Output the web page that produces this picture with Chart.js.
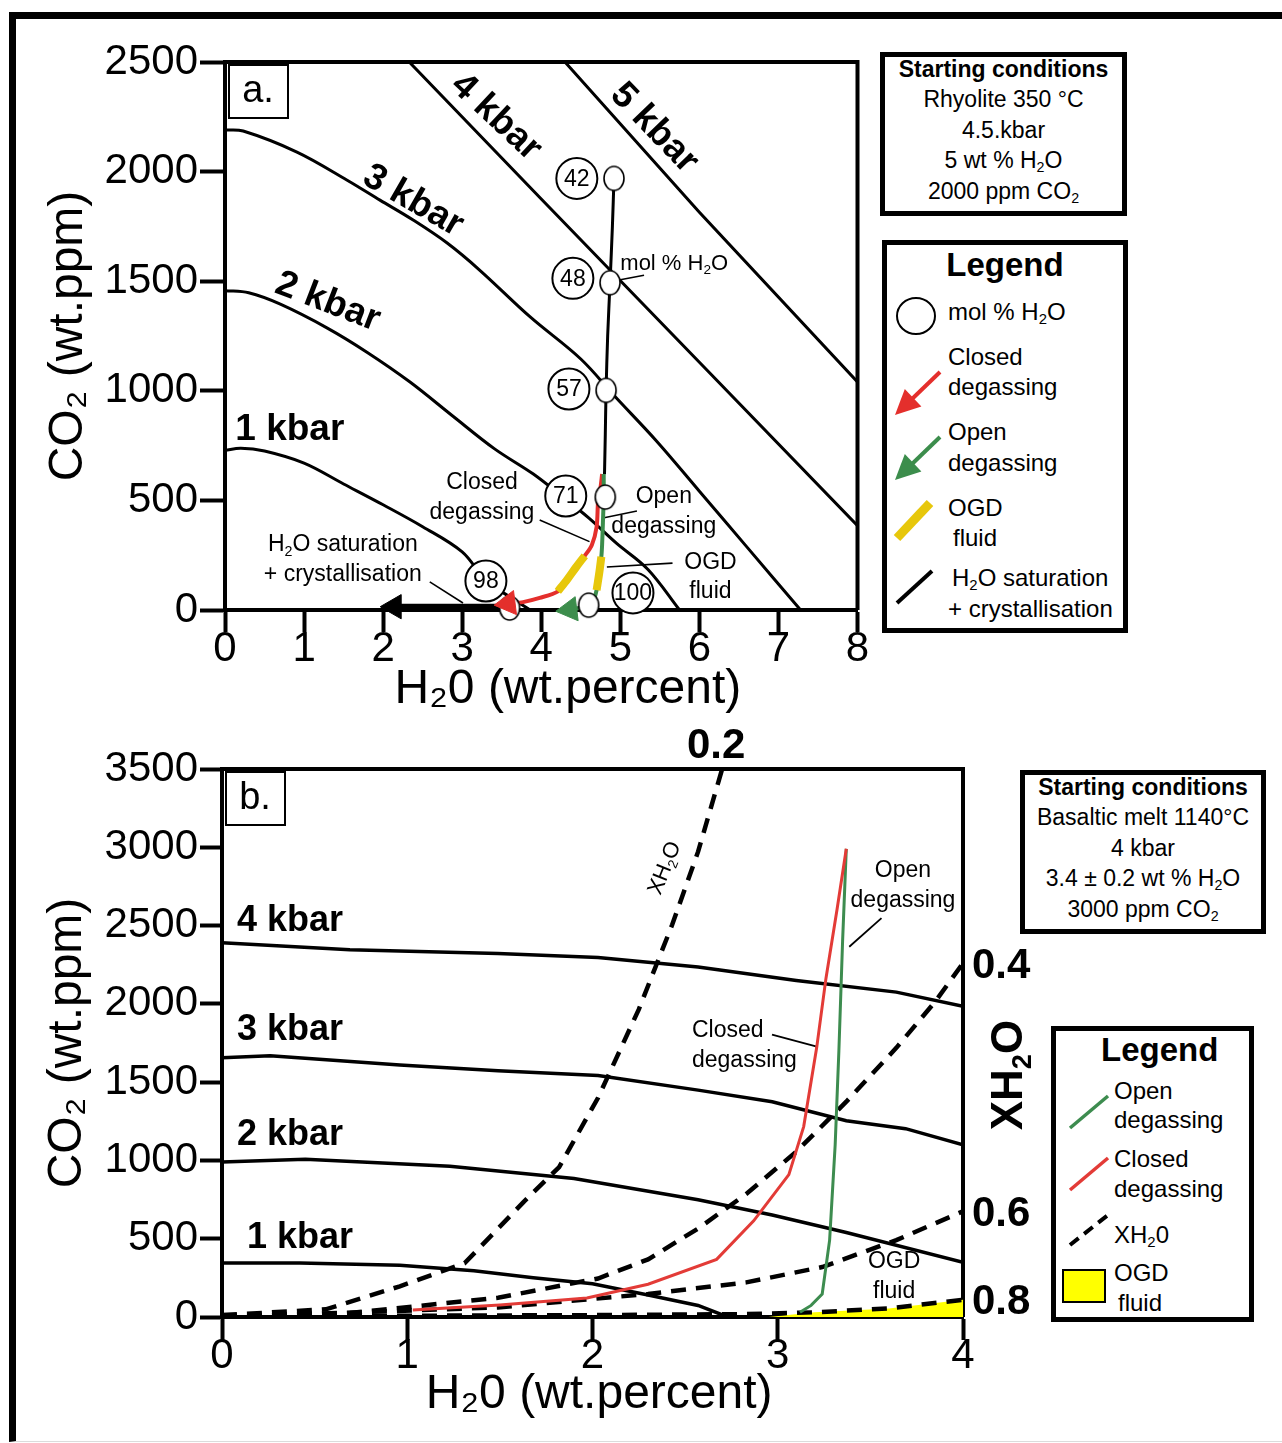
<!DOCTYPE html>
<html lang="en">
<head>
<meta charset="utf-8">
<title>CO2–H2O degassing paths</title>
<script src="https://cdn.jsdelivr.net/npm/chart.js@4.4.1/dist/chart.umd.min.js"></script>
<style>
  html, body { margin: 0; padding: 0; background: #fff; }
  body { width: 1282px; height: 1443px; position: relative; overflow: hidden;
         font-family: "Liberation Sans", Arial, Helvetica, sans-serif; color: #000; }
  #frame { position: absolute; left: 9px; top: 12px; width: 1300px; height: 1422px;
           border-top: 7px solid #000; border-left: 7px solid #000; border-bottom: 1px solid #dcdcdc; }
  canvas { position: absolute; left: 0; }
  #chartA { top: 0; }
  #chartB { top: 720px; }
  .box { position: absolute; box-sizing: border-box; border: 5px solid #000; background: #fff; }
  .cond { text-align: center; font-size: 23px; line-height: 30.4px; padding-top: 0; }
  .cond .t { font-weight: bold; margin-top: -3px; }
  sub { font-size: 0.62em; vertical-align: -0.3em; line-height: 0; }
  .lg { position: absolute; white-space: nowrap; font-size: 24px; line-height: 30px; height: 30px; }
  .lgt { position: absolute; white-space: nowrap; font-size: 33px; font-weight: bold; line-height: 36px; }
  .box svg { position: absolute; left: 0; top: 0; overflow: visible; }
</style>
</head>
<body>
<div id="frame"></div>
<canvas id="chartA" width="880" height="720"></canvas>
<canvas id="chartB" width="1060" height="723"></canvas>

<!-- panel a: starting conditions -->
<div class="box cond" style="left:880px;top:52px;width:247px;height:164px;">
  <div class="t">Starting conditions</div>
  <div>Rhyolite 350 °C</div>
  <div>4.5.kbar</div>
  <div>5 wt % H<sub>2</sub>O</div>
  <div>2000 ppm CO<sub>2</sub></div>
</div>

<!-- panel a: legend -->
<div class="box" style="left:882px;top:240px;width:246px;height:393px;">
  <svg width="236" height="383">
    <ellipse cx="29" cy="71" rx="19" ry="18" fill="#fff" stroke="#000" stroke-width="2"/>
    <line x1="53" y1="127" x2="25" y2="154" stroke="#e42f2c" stroke-width="4"/>
    <polygon points="8,170 34.4,161.4 17.8,144" fill="#e42f2c"/>
    <line x1="53" y1="192" x2="25" y2="219" stroke="#3c8d4c" stroke-width="4"/>
    <polygon points="8,235 34.4,226.4 17.8,209" fill="#3c8d4c"/>
    <line x1="43" y1="258" x2="10" y2="293" stroke="#e7c70b" stroke-width="9"/>
    <line x1="45" y1="326" x2="10" y2="358" stroke="#000" stroke-width="4"/>
  </svg>
  <div class="lgt" style="left:0;width:236px;text-align:center;top:2px;">Legend</div>
  <div class="lg" style="left:61px;top:52px;">mol % H<sub>2</sub>O</div>
  <div class="lg" style="left:61px;top:97px;">Closed</div>
  <div class="lg" style="left:61px;top:127px;">degassing</div>
  <div class="lg" style="left:61px;top:172px;">Open</div>
  <div class="lg" style="left:61px;top:203px;">degassing</div>
  <div class="lg" style="left:61px;top:248px;">OGD</div>
  <div class="lg" style="left:66px;top:278px;">fluid</div>
  <div class="lg" style="left:65px;top:318px;">H<sub>2</sub>O saturation</div>
  <div class="lg" style="left:61px;top:349px;">+ crystallisation</div>
</div>

<!-- panel b: starting conditions -->
<div class="box cond" style="left:1020px;top:770px;width:246px;height:164px;">
  <div class="t">Starting conditions</div>
  <div>Basaltic melt 1140°C</div>
  <div>4 kbar</div>
  <div>3.4 ± 0.2 wt % H<sub>2</sub>O</div>
  <div>3000 ppm CO<sub>2</sub></div>
</div>

<!-- panel b: legend -->
<div class="box" style="left:1051px;top:1026px;width:203px;height:296px;">
  <svg width="193" height="286">
    <line x1="14" y1="97" x2="52" y2="65" stroke="#3d8c4f" stroke-width="3.5"/>
    <line x1="14" y1="159" x2="52" y2="127" stroke="#e33b37" stroke-width="3.5"/>
    <line x1="14" y1="214" x2="52" y2="184" stroke="#000" stroke-width="4" stroke-dasharray="11 7"/>
    <rect x="7" y="239" width="42" height="32" fill="#ffff00" stroke="#000" stroke-width="2"/>
  </svg>
  <div class="lgt" style="left:45px;top:1px;">Legend</div>
  <div class="lg" style="left:58px;top:45px;">Open</div>
  <div class="lg" style="left:58px;top:74px;">degassing</div>
  <div class="lg" style="left:58px;top:113px;">Closed</div>
  <div class="lg" style="left:58px;top:143px;">degassing</div>
  <div class="lg" style="left:58px;top:189px;">XH<sub>2</sub>0</div>
  <div class="lg" style="left:58px;top:227px;">OGD</div>
  <div class="lg" style="left:62px;top:257px;">fluid</div>
</div>

<script>
const FAMILY = '"Liberation Sans", Arial, Helvetica, sans-serif';
Chart.defaults.font.family = FAMILY;
Chart.defaults.color = '#000';

/* ================= Panel a: rhyolite at 350 °C ================= */
const aTicksX = [0, 1, 2, 3, 4, 5, 6, 7, 8];
const aTicksY = [0, 500, 1000, 1500, 2000, 2500];

// H2O-CO2 solubility isobars (H2O wt%, CO2 ppm)
const a1kbarX = [0, 0.2, 0.5, 1.0, 1.5, 2.0, 2.5, 3.0, 3.3, 3.6, 3.86];
const a1kbarY = [728, 738, 725, 670, 575, 480, 380, 265, 135, 60, 0];
const a2kbarX = [0, 0.3, 0.7, 1.3, 1.8, 2.34, 2.88, 3.41, 3.9, 4.27, 4.6, 4.95, 5.35, 5.75];
const a2kbarY = [1457, 1447, 1395, 1285, 1175, 1040, 885, 735, 620, 516, 420, 305, 185, 0];
const a3kbarX = [0, 0.23, 0.91, 1.54, 1.96, 2.38, 2.81, 3.22, 3.86, 4.5, 4.93, 5.46, 6.0, 6.6, 7.28];
const a3kbarY = [2190, 2185, 2089, 1962, 1870, 1779, 1674, 1551, 1337, 1145, 975, 770, 542, 288, 0];
const a4kbarX = [2.33, 4.0, 6.0, 8.0];
const a4kbarY = [2500, 1875, 1130, 385];
const a5kbarX = [4.3, 6.0, 8.0];
const a5kbarY = [2500, 1815, 1040];

// degassing path from the starting melt
const aPathX = [4.92, 4.90, 4.87, 4.84, 4.82, 4.81, 4.80];
const aPathY = [1969, 1750, 1493, 1250, 1002, 800, 620];
const aClosedX = [4.77, 4.75, 4.72, 4.70, 4.64, 4.55, 4.44, 4.33, 4.21, 3.98, 3.77, 3.60];
const aClosedY = [620, 560, 502, 379, 297, 247, 195, 140, 85, 55, 36, 30];
const aOpenX = [4.79, 4.79, 4.78, 4.77, 4.76, 4.73, 4.70, 4.66, 4.58, 4.46, 4.36];
const aOpenY = [620, 515, 400, 300, 243, 160, 91, 46, 22, 8, 2];
const aClosedOgdX = [4.55, 4.44, 4.33, 4.21];
const aClosedOgdY = [247, 195, 140, 85];
const aOpenOgdX = [4.76, 4.745, 4.73, 4.70];
const aOpenOgdY = [243, 200, 160, 91];
const aSatX = [2.2, 3.55];
const aSatY = [15, 15];

// fluid composition markers (mol % H2O) and their labels
const aMolPct = [42, 48, 57, 71, 98, 100];
const aMarkX = [4.92, 4.87, 4.82, 4.81, 3.60, 4.60];
const aMarkY = [1969, 1493, 1002, 515, 9, 22];
const aMolLabelX = [4.45, 4.40, 4.35, 4.31, 3.30, 5.16];
const aMolLabelY = [1969, 1513, 1008, 520, 132, 78];

/* ================= Panel b: basaltic melt at 1140 °C ================= */
const bTicksX = [0, 1, 2, 3, 4];
const bTicksY = [0, 500, 1000, 1500, 2000, 2500, 3000, 3500];

const b1kbarX = [0, 0.42, 0.96, 1.36, 1.68, 2.0, 2.3, 2.57, 2.73];
const b1kbarY = [345, 345, 330, 295, 250, 212, 140, 74, 0];
const b2kbarX = [0, 0.45, 1.23, 1.90, 2.57, 2.97, 3.37, 4.0];
const b2kbarY = [990, 1008, 963, 884, 749, 651, 540, 350];
const b3kbarX = [0, 0.26, 0.96, 1.49, 2.03, 2.57, 2.97, 3.37, 3.69, 4.0];
const b3kbarY = [1655, 1668, 1609, 1572, 1542, 1449, 1375, 1253, 1203, 1100];
const b4kbarX = [0, 0.69, 1.49, 2.03, 2.57, 3.10, 3.64, 4.0];
const b4kbarY = [2390, 2345, 2321, 2296, 2235, 2149, 2075, 1985];

// XH2O isopleths
const bXh2oValues = ['0.2', '0.4', '0.6', '0.8'];
const bX02 = [0, 0.56, 0.96, 1.31, 1.63, 1.82, 2.03, 2.25, 2.43, 2.57, 2.70];
const bY02 = [12, 49, 196, 344, 737, 958, 1400, 1965, 2505, 2972, 3500];
const bX04 = [0, 0.69, 1.49, 2.03, 2.30, 2.57, 2.83, 3.10, 3.37, 3.64, 3.85, 4.0];
const bY04 = [7, 25, 123, 246, 368, 565, 786, 1056, 1375, 1719, 2014, 2260];
const bX06 = [0, 1.49, 2.30, 2.83, 3.24, 3.64, 4.0];
const bY06 = [0, 61, 147, 221, 319, 491, 675];
const bX08 = [0, 1.0, 2.0, 2.8, 3.2, 3.6, 4.0];
const bY08 = [5, 8, 12, 18, 30, 55, 110];

// degassing paths and the OGD fluid field
const bClosedX = [1.03, 1.5, 1.97, 2.3, 2.67, 2.87, 3.06, 3.14, 3.21, 3.26, 3.32, 3.37];
const bClosedY = [45, 77, 121, 209, 368, 614, 909, 1216, 1719, 2161, 2603, 2990];
const bOpenX = [3.37, 3.35, 3.33, 3.31, 3.28, 3.24, 3.18, 3.12];
const bOpenY = [2990, 2400, 1700, 1100, 491, 147, 74, 30];
const bOgdX = [2.95, 3.2, 3.6, 4.0];
const bOgdY = [0, 30, 55, 110];

/* ================= helpers ================= */
const zip = (xs, ys) => xs.map((x, i) => ({ x, y: ys[i] }));

function line(xs, ys, color, width, extra) {
  return Object.assign({
    data: zip(xs, ys), showLine: true, borderColor: color, backgroundColor: color,
    borderWidth: width, pointRadius: 0, pointHoverRadius: 0, tension: 0, fill: false
  }, extra || {});
}

function ellipseMarker(w, h) {
  const c = document.createElement('canvas');
  c.width = w + 4; c.height = h + 4;
  const g = c.getContext('2d');
  g.beginPath();
  g.ellipse(c.width / 2, c.height / 2, w / 2, h / 2, 0, 0, Math.PI * 2);
  g.fillStyle = '#fff'; g.fill();
  g.lineWidth = 1.6; g.strokeStyle = '#000'; g.stroke();
  return c;
}

// text with "_2"-style subscripts
function drawRich(ctx, text, x, y, size, o) {
  o = o || {};
  const parts = text.split(/(_\d)/).filter(Boolean)
    .map(p => p[0] === '_' ? { t: p.slice(1), sub: true } : { t: p, sub: false });
  const font = s => (o.bold ? 'bold ' : '') + s + 'px ' + FAMILY;
  ctx.save();
  ctx.translate(x, y);
  if (o.rotate) ctx.rotate(o.rotate * Math.PI / 180);
  ctx.textBaseline = 'middle'; ctx.textAlign = 'left'; ctx.fillStyle = '#000';
  let w = 0;
  parts.forEach(p => { ctx.font = font(p.sub ? size * 0.62 : size); p.w = ctx.measureText(p.t).width; w += p.w; });
  let cx = o.align === 'center' ? -w / 2 : o.align === 'right' ? -w : 0;
  parts.forEach(p => {
    ctx.font = font(p.sub ? size * 0.62 : size);
    ctx.fillText(p.t, cx, p.sub ? size * 0.3 : 0);
    cx += p.w;
  });
  ctx.restore();
}

function panelBox(ctx, area, label) {
  ctx.save();
  ctx.fillStyle = '#fff'; ctx.strokeStyle = '#000'; ctx.lineWidth = 2;
  const l = area.left + 4, t = area.top + 3;
  ctx.fillRect(l, t, 59, 53); ctx.strokeRect(l, t, 59, 53);
  ctx.restore();
  drawRich(ctx, label, l + 29, t + 27, 38, { align: 'center' });
}

const framePlugin = {
  id: 'plotFrame',
  beforeDatasetsDraw(chart) {
    const { ctx, chartArea: a } = chart;
    ctx.save();
    ctx.strokeStyle = '#000'; ctx.lineWidth = 4; ctx.lineJoin = 'miter';
    ctx.beginPath();
    ctx.moveTo(a.left - 2, a.top); ctx.lineTo(a.right, a.top); ctx.lineTo(a.right, a.bottom);
    ctx.stroke();
    ctx.restore();
  }
};

function axes(ticksX, ticksY, xTitle, xTitlePad, xHeight, yWidth, yTitlePad, xTickLen, yTickLen, xLabelPad) {
  const common = {
    type: 'linear',
    grid: { drawOnChartArea: false, drawTicks: true, tickWidth: 4, tickColor: '#000' },
    border: { display: true, width: 4, color: '#000' }
  };
  const plain = v => String(v);
  return {
    x: Object.assign({}, common, {
      min: ticksX[0], max: ticksX[ticksX.length - 1],
      grid: Object.assign({}, common.grid, { tickLength: xTickLen }),
      ticks: { font: { size: 42, lineHeight: 1 }, color: '#000', padding: xLabelPad, maxRotation: 0, autoSkip: false, callback: plain },
      afterBuildTicks: s => { s.ticks = ticksX.map(v => ({ value: v })); },
      title: { display: true, text: xTitle, color: '#000', font: { size: 48, lineHeight: 1.2 }, padding: { top: 0, bottom: xTitlePad } },
      afterFit: s => { s.height = xHeight; }
    }),
    y: Object.assign({}, common, {
      min: ticksY[0], max: ticksY[ticksY.length - 1],
      grid: Object.assign({}, common.grid, { tickLength: yTickLen }),
      ticks: { font: { size: 42, lineHeight: 1 }, color: '#000', padding: 2, autoSkip: false, callback: plain },
      afterBuildTicks: s => { s.ticks = ticksY.map(v => ({ value: v })); },
      title: { display: true, text: 'CO₂ (wt.ppm)', color: '#000', font: { size: 48, lineHeight: 1.2 }, padding: { top: yTitlePad, bottom: 0 } },
      afterFit: s => { s.width = yWidth; }
    })
  };
}

/* ================= chart a ================= */
const RED_A = '#e42f2c', GREEN_A = '#3c8d4c', YELLOW_A = '#e7c70b';

const aLabelsPlugin = {
  id: 'aLabels',
  afterDatasetsDraw(chart) {
    const ctx = chart.ctx, X = chart.scales.x, Y = chart.scales.y;
    const px = v => X.getPixelForValue(v), py = v => Y.getPixelForValue(v);
    // numbers in the mol % circles
    const idx = chart.data.datasets.findIndex(d => d.label === 'mol % H2O labels');
    chart.getDatasetMeta(idx).data.forEach((pt, i) =>
      drawRich(ctx, String(aMolPct[i]), pt.x, pt.y + 1, 23, { align: 'center' }));
    // isobar names
    drawRich(ctx, '1 kbar', px(0.13), py(821), 37, { bold: true });
    drawRich(ctx, '2 kbar', px(1.30), py(1405), 37, { bold: true, align: 'center', rotate: 21 });
    drawRich(ctx, '3 kbar', px(2.38), py(1866), 37, { bold: true, align: 'center', rotate: 30 });
    drawRich(ctx, '4 kbar', px(3.43), py(2248), 37, { bold: true, align: 'center', rotate: 43 });
    drawRich(ctx, '5 kbar', px(5.43), py(2198), 37, { bold: true, align: 'center', rotate: 46 });
    // annotations
    drawRich(ctx, 'mol % H_2O', px(5.0), py(1578), 22);
    drawRich(ctx, 'Closed', px(3.25), py(579), 23, { align: 'center' });
    drawRich(ctx, 'degassing', px(3.25), py(443), 23, { align: 'center' });
    drawRich(ctx, 'Open', px(5.55), py(516), 23, { align: 'center' });
    drawRich(ctx, 'degassing', px(5.55), py(379), 23, { align: 'center' });
    drawRich(ctx, 'OGD', px(6.14), py(214), 23, { align: 'center' });
    drawRich(ctx, 'fluid', px(6.14), py(82), 23, { align: 'center' });
    drawRich(ctx, 'H_2O saturation', px(1.49), py(297), 23, { align: 'center' });
    drawRich(ctx, '+ crystallisation', px(1.49), py(160), 23, { align: 'center' });
    panelBox(ctx, chart.chartArea, 'a.');
  }
};

new Chart(document.getElementById('chartA'), {
  type: 'scatter',
  data: {
    datasets: [
      line(a1kbarX, a1kbarY, '#000', 3, { order: 20, tension: 0.35 }),
      line(a2kbarX, a2kbarY, '#000', 3, { order: 20, tension: 0.35 }),
      line(a3kbarX, a3kbarY, '#000', 3, { order: 20, tension: 0.35 }),
      line(a4kbarX, a4kbarY, '#000', 3, { order: 20 }),
      line(a5kbarX, a5kbarY, '#000', 3, { order: 20 }),
      // leader lines for the annotations
      line([5.00, 5.30], [1507, 1527], '#000', 1.6, { order: 19 }),
      line([3.98, 4.61], [411, 312], '#000', 1.6, { order: 19 }),
      line([5.21, 4.78], [452, 420], '#000', 1.6, { order: 19 }),
      line([5.66, 4.83], [214, 196], '#000', 1.6, { order: 19 }),
      line([2.59, 3.01], [128, 32], '#000', 1.6, { order: 19 }),
      // paths
      line(aSatX, aSatY, '#000', 6, { order: 15, clip: false }),
      line(aPathX, aPathY, '#000', 3, { order: 14, tension: 0.3 }),
      line(aOpenX, aOpenY, GREEN_A, 4, { order: 13, tension: 0.3, clip: false }),
      line(aClosedX, aClosedY, RED_A, 4, { order: 13, tension: 0.3, clip: false }),
      line(aOpenOgdX, aOpenOgdY, YELLOW_A, 8, { order: 12, tension: 0.3 }),
      line(aClosedOgdX, aClosedOgdY, YELLOW_A, 8, { order: 12, tension: 0.3 }),
      // composition markers
      { label: 'mol % H2O markers', data: zip(aMarkX, aMarkY), showLine: false, order: 6, clip: false,
        pointStyle: ellipseMarker(20, 24), pointRadius: 12, pointHoverRadius: 12 },
      // arrow heads
      { data: [{ x: 3.58, y: 30 }], showLine: false, order: 5, clip: false, pointStyle: 'triangle',
        pointRotation: -97, pointRadius: 14, pointHoverRadius: 14,
        pointBackgroundColor: RED_A, pointBorderColor: RED_A, pointBorderWidth: 1 },
      { data: [{ x: 4.36, y: 2 }], showLine: false, order: 5, clip: false, pointStyle: 'triangle',
        pointRotation: -97, pointRadius: 14, pointHoverRadius: 14,
        pointBackgroundColor: GREEN_A, pointBorderColor: GREEN_A, pointBorderWidth: 1 },
      { data: [{ x: 2.14, y: 15 }], showLine: false, order: 5, clip: false, pointStyle: 'triangle',
        pointRotation: -90, pointRadius: 14, pointHoverRadius: 14,
        pointBackgroundColor: '#000', pointBorderColor: '#000', pointBorderWidth: 1 },
      // mol % labels
      { label: 'mol % H2O labels', data: zip(aMolLabelX, aMolLabelY), showLine: false, order: 4, clip: false,
        pointStyle: 'circle', pointRadius: 20.5, pointHoverRadius: 20.5,
        pointBackgroundColor: '#fff', pointBorderColor: '#000', pointBorderWidth: 2 }
    ]
  },
  options: {
    responsive: false, animation: false, events: [],
    layout: { padding: { left: 0, top: 62, right: 22, bottom: 0 } },
    plugins: { legend: { display: false }, tooltip: { enabled: false } },
    scales: axes(aTicksX, aTicksY, '    H₂0 (wt.percent)', 1, 110, 225, 40, 22, 25, -4)
  },
  plugins: [framePlugin, aLabelsPlugin]
});

/* ================= chart b ================= */
const RED_B = '#e33b37', GREEN_B = '#3d8c4f';
const DASH = [15, 10];
const bIsopleths = [[bX02, bY02], [bX04, bY04], [bX06, bY06], [bX08, bY08]];

const bLabelsPlugin = {
  id: 'bLabels',
  afterDatasetsDraw(chart) {
    const ctx = chart.ctx, X = chart.scales.x, Y = chart.scales.y, a = chart.chartArea;
    const px = v => X.getPixelForValue(v), py = v => Y.getPixelForValue(v);
    drawRich(ctx, '4 kbar', px(0.081), py(2529), 36, { bold: true });
    drawRich(ctx, '3 kbar', px(0.081), py(1833), 36, { bold: true });
    drawRich(ctx, '2 kbar', px(0.081), py(1162), 36, { bold: true });
    drawRich(ctx, '1 kbar', px(0.135), py(504), 36, { bold: true });
    drawRich(ctx, 'XH_2O', px(2.391), py(2867), 22, { align: 'center', rotate: -68 });
    drawRich(ctx, 'Open', px(3.676), py(2848), 23, { align: 'center' });
    drawRich(ctx, 'degassing', px(3.676), py(2657), 23, { align: 'center' });
    drawRich(ctx, 'Closed', px(2.537), py(1826), 23);
    drawRich(ctx, 'degassing', px(2.537), py(1635), 23);
    drawRich(ctx, 'OGD', px(3.628), py(351), 23, { align: 'center' });
    drawRich(ctx, 'fluid', px(3.628), py(160), 23, { align: 'center' });
    // XH2O values at the ends of the isopleths
    bIsopleths.forEach(([xs, ys], i) => {
      const ex = xs[xs.length - 1], ey = ys[ys.length - 1];
      if (ey >= Y.max) {
        drawRich(ctx, bXh2oValues[i], px(ex) - 6, a.top - 23, 42, { bold: true, align: 'center' });
      } else {
        drawRich(ctx, bXh2oValues[i], a.right + 9, py(ey) + 3, 42, { bold: true });
      }
    });
    drawRich(ctx, 'XH_2O', a.right + 47, py(1545), 44, { bold: true, align: 'center', rotate: -90 });
    panelBox(ctx, a, 'b.');
  }
};

new Chart(document.getElementById('chartB'), {
  type: 'scatter',
  data: {
    datasets: [
      line(bOgdX, bOgdY, '#ffff00', 0, { order: 30, fill: 'origin', backgroundColor: '#ffff00' }),
      line(b1kbarX, b1kbarY, '#000', 3.5, { order: 20 }),
      line(b2kbarX, b2kbarY, '#000', 3.5, { order: 20 }),
      line(b3kbarX, b3kbarY, '#000', 3.5, { order: 20 }),
      line(b4kbarX, b4kbarY, '#000', 3.5, { order: 20 }),
      line(bX02, bY02, '#000', 4.5, { order: 18, borderDash: DASH }),
      line(bX04, bY04, '#000', 4.5, { order: 18, borderDash: DASH }),
      line(bX06, bY06, '#000', 4.5, { order: 18, borderDash: DASH }),
      line(bX08, bY08, '#000', 4.5, { order: 18, borderDash: DASH }),
      line([3.56, 3.386], [2548, 2365], '#000', 1.8, { order: 17 }),
      line([2.969, 3.206], [1803, 1729], '#000', 1.8, { order: 17 }),
      line(bClosedX, bClosedY, RED_B, 3, { order: 10 }),
      line(bOpenX, bOpenY, GREEN_B, 3, { order: 10 })
    ]
  },
  options: {
    responsive: false, animation: false, events: [],
    layout: { padding: { left: 0, top: 49, right: 97, bottom: 0 } },
    plugins: { legend: { display: false }, tooltip: { enabled: false } },
    scales: axes(bTicksX, bTicksY, ' H₂0 (wt.percent)', 19, 126, 222, 39, 23, 22, -5)
  },
  plugins: [framePlugin, bLabelsPlugin]
});
</script>
</body>
</html>
